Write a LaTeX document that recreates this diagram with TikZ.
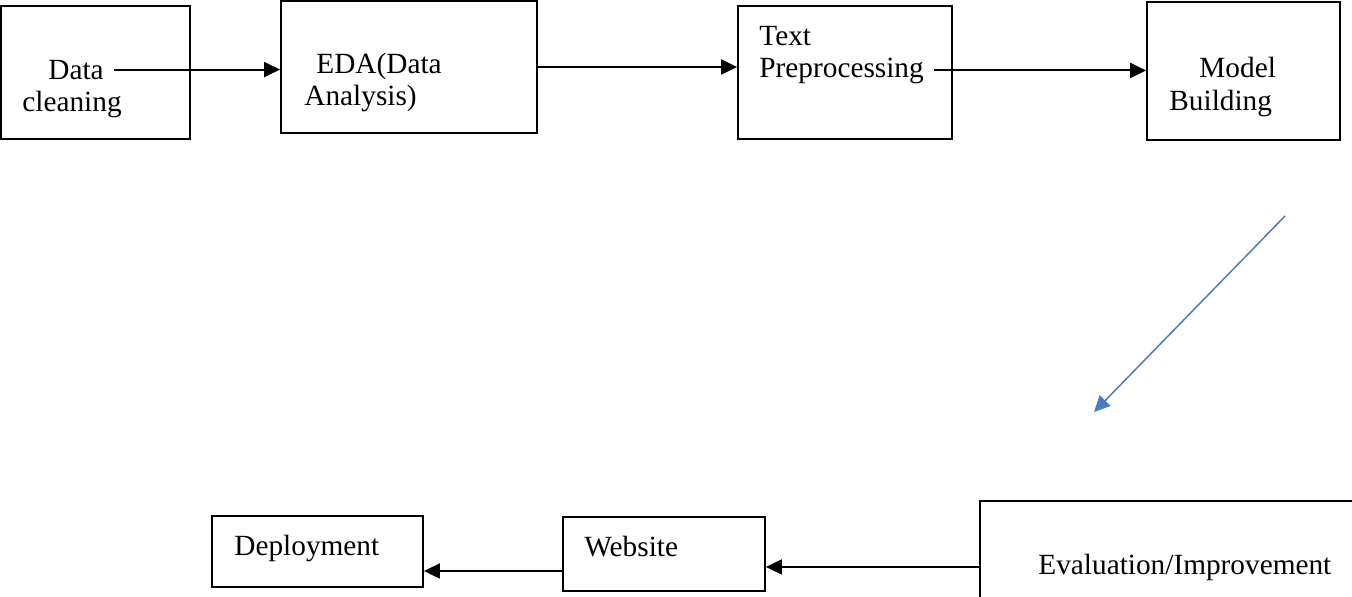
\documentclass[tikz,border=0pt]{standalone}
\usepackage{fontspec}
\setmainfont{Liberation Serif}
\definecolor{arrowBlue}{HTML}{4A7EBB}
\usepackage{tikz}
\usetikzlibrary{arrows.meta, positioning}

\begin{document}
\begin{tikzpicture}[
    x=0.5pt, y=-0.5pt,
    stage/.style={rectangle, draw=black, line width=0.9pt, inner sep=0pt},
    line/.style={inner xsep=5pt, inner ysep=0pt, anchor=base west,
                 font=\fontsize{14.65pt}{16pt}\selectfont},
    flow/.style={-{Triangle[length=8pt, width=7.5pt]}, line width=1pt, black}
  ]
    \useasboundingbox (0,0) rectangle (1352,596);

    % top row
    \node[stage, minimum width=94.5pt, minimum height=66.5pt] (clean) at (95.5,72.5) {};
    \node[stage, minimum width=128pt, minimum height=66pt] (eda) at (409,67) {};
    \node[stage, minimum width=107pt, minimum height=66.5pt] (prep) at (845,72.5) {};
    \node[stage, minimum width=96.5pt, minimum height=69pt] (model) at (1243.5,71) {};

    \node[line] (cleanA) at (38,79) {Data};
    \node[line] (cleanB) at (12,111) {cleaning};
    \node[line] (edaA) at (306,73) {EDA(Data};
    \node[line] (edaB) at (294,105) {Analysis)};
    \node[line] (prepA) at (749,45) {Text};
    \node[line] (prepB) at (749,77) {Preprocessing};
    \node[line] (modelA) at (1189,77) {Model};
    \node[line] (modelB) at (1159,110) {Building};

    % bottom row
    \node[stage, minimum width=105.5pt, minimum height=35.5pt] (deploy) at (317.5,551.5) {};
    \node[stage, minimum width=101pt, minimum height=37pt] (web) at (664,554) {};
    \node[stage, minimum width=190pt, minimum height=51.5pt] (eval) at (1170,552.5) {};

    \node[line] (deployA) at (224,555) {Deployment};
    \node[line] (webA) at (574,556) {Website};
    \node[line] (evalA) at (1028,574) {Evaluation/Improvement};

    \coordinate (webOut) at ([yshift=-8.5pt]web.west);
    \coordinate (diagFrom) at (1285,216);
    \coordinate (diagTo) at (1094,412);

    \draw[flow] (cleanA.east) -- (cleanA.east -| eda.west);
    \draw[flow] (eda.east) -- (eda.east -| prep.west);
    \draw[flow] (prepB.east) -- (prepB.east -| model.west);
    \draw[flow, arrowBlue, line width=0.75pt] (diagFrom) -- (diagTo);
    \draw[flow] (evalA.west -| eval.west) -- (evalA.west -| web.east);
    \draw[flow] (webOut) -- (webOut -| deploy.east);
  \end{tikzpicture}
\end{document}
